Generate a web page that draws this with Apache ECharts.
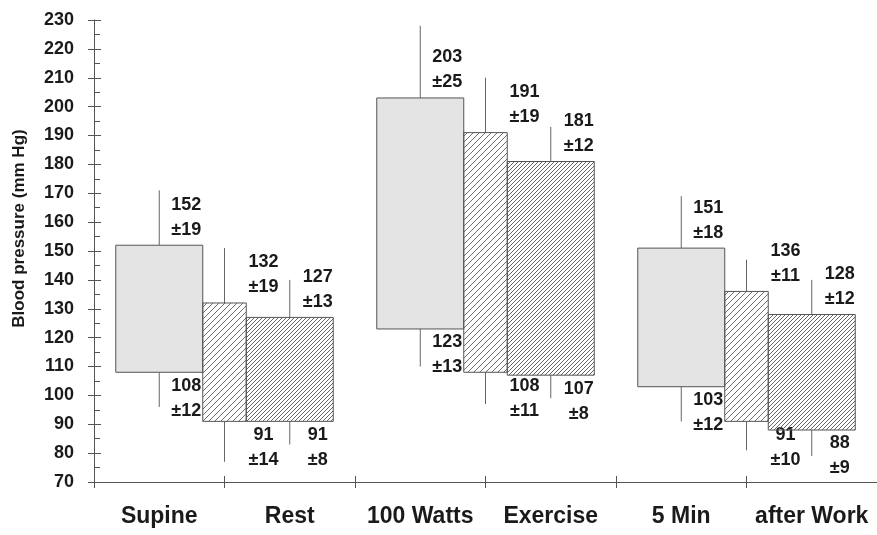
<!DOCTYPE html>
<html>
<head>
<meta charset="utf-8">
<script src="https://cdn.jsdelivr.net/npm/echarts@6/dist/echarts.min.js"></script>
<style>
  html, body { margin: 0; padding: 0; background: #fff; }
  #main { width: 877px; height: 535px; }
</style>
</head>
<body>
<div id="main"></div>
<script>
// phases on the axis, two labels per group of three boxes
var categories = ['Supine', 'Rest', '100 Watts', 'Exercise', '5 Min', 'after Work'];
// three boxes per group (group 1: Supine/Rest, group 2: 100 Watts/Exercise, group 3: 5 Min/after Work)
var systolic = [152, 132, 127, 203, 191, 181, 151, 136, 128];
var systolicSD = [19, 19, 13, 25, 19, 12, 18, 11, 12];
var diastolic = [108, 91, 91, 123, 108, 107, 103, 91, 88];
var diastolicSD = [12, 14, 8, 13, 11, 8, 12, 10, 9];
var yTicks = [70, 230, 10]; // min, max, step

function hatch(step, color) {
    var c = document.createElement('canvas');
    c.width = c.height = step;
    var ctx = c.getContext('2d');
    ctx.strokeStyle = color;
    ctx.lineWidth = 1;
    ctx.beginPath();
    ctx.moveTo(0, step); ctx.lineTo(step, 0);
    ctx.moveTo(-1, 1); ctx.lineTo(1, -1);
    ctx.moveTo(step - 1, step + 1); ctx.lineTo(step + 1, step - 1);
    ctx.stroke();
    return c;
}

var fills = [
    '#e4e4e4',
    { image: hatch(6, '#707070'), repeat: 'repeat' },
    { image: hatch(4, '#666'), repeat: 'repeat' }
];
var labelShift = [27, 39, 28];

var boxData = systolic.map(function (v, i) {
    return [i, v, diastolic[i], systolicSD[i], diastolicSD[i]];
});

var myChart = echarts.init(document.getElementById('main'));

var font = 'Liberation Sans, Arial, sans-serif';

var option = {
    animation: false,
    grid: { left: 94, right: 0, top: 20, bottom: 53 },
    xAxis: [{
        type: 'category',
        data: categories,
        axisLine: { lineStyle: { color: '#555' } },
        axisTick: { show: true, length: 6, interval: 0, lineStyle: { color: '#555' } },
        axisLabel: { interval: 0, color: '#1a1a1a', fontSize: 23, fontWeight: 'bold', fontFamily: font, margin: 23 }
    }, {
        type: 'category',
        data: categories,
        position: 'bottom',
        axisLine: { show: false },
        axisTick: { show: true, inside: true, interval: 0, length: 6, lineStyle: { color: '#555' } },
        axisLabel: { show: false }
    }, {
        type: 'value',
        min: 0,
        max: 6,
        show: false
    }],
    yAxis: [{
        type: 'value',
        min: yTicks[0],
        max: yTicks[1],
        interval: yTicks[2],
        name: 'Blood pressure (mm Hg)',
        nameLocation: 'middle',
        nameGap: 66,
        nameTextStyle: { color: '#1a1a1a', fontSize: 17, fontWeight: 'bold', fontFamily: font, padding: [0, 0, 0, 45] },
        axisLine: { show: true, lineStyle: { color: '#555' } },
        axisTick: { show: true, inside: true, length: 7, lineStyle: { color: '#555' } },
        minorTick: { show: true, splitNumber: 2, length: 6, lineStyle: { color: '#555' } },
        splitLine: { show: false },
        axisLabel: { color: '#1a1a1a', fontSize: 18, fontWeight: 'bold', fontFamily: font, margin: 20 }
    }, {
        type: 'value',
        position: 'left',
        min: yTicks[0],
        max: yTicks[1],
        interval: yTicks[2],
        axisLine: { show: false },
        axisTick: { show: true, length: 6, lineStyle: { color: '#555' } },
        splitLine: { show: false },
        axisLabel: { show: false }
    }],
    series: [{
        type: 'custom',
        xAxisIndex: 2,
        yAxisIndex: 0,
        data: boxData,
        renderItem: function (params, api) {
            var i = api.value(0);
            var slot = i % 3;
            var g = Math.floor(i / 3);
            var xc = 2 * g + 0.5 + 0.5 * slot;
            var half = slot === 1 ? 1 / 6 : 1 / 3;
            var sys = api.value(1), dia = api.value(2);
            var sSD = api.value(3), dSD = api.value(4);
            var tl = api.coord([xc - half, sys]);
            var br = api.coord([xc + half, dia]);
            var top = api.coord([xc, sys]);
            var topW = api.coord([xc, sys + sSD]);
            var bot = api.coord([xc, dia]);
            var botW = api.coord([xc, dia - dSD]);
            var tx = top[0] + labelShift[slot];
            var txtStyle = {
                fill: '#1a1a1a', fontSize: 18, fontWeight: 'bold', fontFamily: font,
                align: 'center', lineHeight: 25
            };
            return {
                type: 'group',
                children: [{
                    type: 'line',
                    shape: { x1: top[0], y1: top[1], x2: topW[0], y2: topW[1] },
                    style: { stroke: '#666', lineWidth: 1 }
                }, {
                    type: 'line',
                    shape: { x1: bot[0], y1: bot[1], x2: botW[0], y2: botW[1] },
                    style: { stroke: '#666', lineWidth: 1 }
                }, {
                    type: 'rect',
                    shape: { x: tl[0], y: tl[1], width: br[0] - tl[0], height: br[1] - tl[1] },
                    style: { fill: fills[slot], stroke: '#555', lineWidth: 1 }
                }, {
                    type: 'text',
                    x: tx, y: top[1] - 3,
                    style: Object.assign({ text: sys + '\n±' + sSD, verticalAlign: 'bottom' }, txtStyle)
                }, {
                    type: 'text',
                    x: tx, y: bot[1] + 1,
                    style: Object.assign({ text: dia + '\n±' + dSD, verticalAlign: 'top' }, txtStyle)
                }]
            };
        }
    }]
};

myChart.setOption(option);
</script>
</body>
</html>
